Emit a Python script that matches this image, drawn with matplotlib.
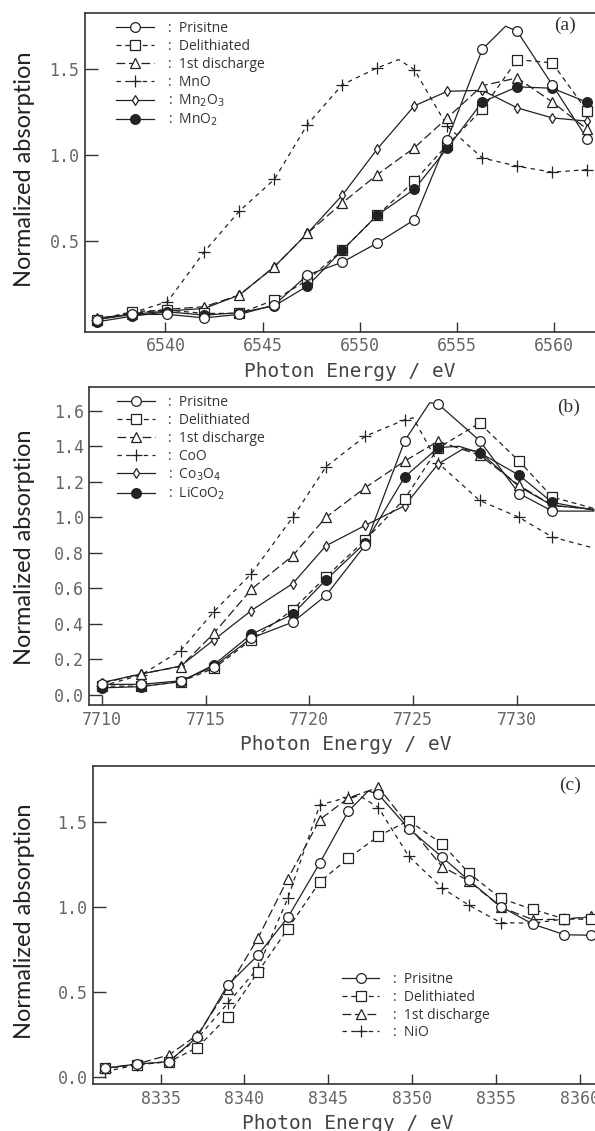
import matplotlib.pyplot as plt
from matplotlib.lines import Line2D
from matplotlib.ticker import FormatStrFormatter

# ---- data ----
# (a) Mn K-edge
xa = [6536.5, 6538.3, 6540.1, 6542.0, 6543.8, 6545.6, 6547.3, 6549.1,
      6550.9, 6552.8, 6554.5, 6556.3, 6558.1, 6559.9, 6561.7]
pristine_a = [0.04, 0.07, 0.07, 0.05, 0.07, 0.125, 0.30, 0.375, 0.487, 0.622,
              1.09, 1.617, 1.722, 1.41, 1.095]
delith_a = [0.04, 0.086, 0.095, 0.076, 0.076, 0.154, 0.27, 0.445, 0.649, 0.847,
            1.06, 1.266, 1.557, 1.538, 1.256]
disch_a = [0.04, 0.075, 0.10, 0.115, 0.183, 0.348, 0.543, 0.721, 0.886, 1.042,
           1.217, 1.405, 1.45, 1.31, 1.15]
mno_a = [0.04, 0.08, 0.144, 0.436, 0.673, 0.858, 1.178, 1.411, 1.509, 1.499,
         1.168, 0.983, 0.935, 0.90, 0.915]
mn2o3_a = [0.05, 0.07, 0.09, 0.105, 0.183, 0.348, 0.543, 0.766, 1.036, 1.287,
           1.372, 1.378, 1.275, 1.217, 1.198]
mno2_a = [0.027, 0.06, 0.085, 0.066, 0.08, 0.12, 0.235, 0.445, 0.649, 0.80,
          1.04, 1.31, 1.398, 1.39, 1.308]
# curve maxima / ends between markers
peak_pristine_a = ([6557.5], [1.752])
peak_mno_a = ([6552.0], [1.557])

# (b) Co K-edge
xb = [7710.0, 7711.9, 7713.8, 7715.4, 7717.2, 7719.2, 7720.8, 7722.7,
      7724.6, 7726.2, 7728.2, 7730.1, 7731.7]
pristine_b = [0.06, 0.06, 0.08, 0.16, 0.32, 0.41, 0.56, 0.845, 1.432, 1.638,
              1.432, 1.134, 1.035]
delith_b = [0.05, 0.05, 0.075, 0.15, 0.31, 0.48, 0.665, 0.873, 1.105, 1.39,
            1.53, 1.317, 1.114]
disch_b = [0.065, 0.12, 0.16, 0.347, 0.594, 0.784, 1.0, 1.167, 1.317, 1.428,
           1.35, 1.18, 1.067]
coo_b = [0.05, 0.113, 0.25, 0.469, 0.682, 1.0, 1.284, 1.457, 1.549, 1.306,
         1.095, 1.0, 0.889]
co3o4_b = [0.07, 0.118, 0.163, 0.31, 0.475, 0.627, 0.84, 0.955, 1.066, 1.30,
           1.367, 1.173, 1.067]
licoo2_b = [0.04, 0.047, 0.075, 0.17, 0.341, 0.455, 0.648, 0.857, 1.228, 1.392,
            1.364, 1.237, 1.084]
peak_pristine_b = ([7725.8, 7733.7], [1.645, 1.035])
peak_delith_b = ([7733.7], [1.05])
peak_disch_b = ([7733.7], [1.045])
peak_coo_b = ([7725.0, 7733.6], [1.56, 0.83])
peak_co3o4_b = ([7727.4, 7733.7], [1.385, 1.045])
peak_licoo2_b = ([7727.2, 7733.7], [1.40, 1.04])

# (c) Ni K-edge
xc = [8331.7, 8333.6, 8335.5, 8337.2, 8339.0, 8340.8, 8342.6, 8344.5, 8346.2,
      8348.0, 8349.8, 8351.8, 8353.4, 8355.3, 8357.2, 8359.1, 8360.7]
pristine_c = [0.049, 0.075, 0.088, 0.236, 0.54, 0.715, 0.94, 1.26, 1.565,
              1.665, 1.463, 1.295, 1.157, 1.003, 0.90, 0.837, 0.834]
delith_c = [0.049, 0.07, 0.088, 0.171, 0.354, 0.616, 0.873, 1.149, 1.288,
            1.419, 1.51, 1.373, 1.2, 1.051, 0.987, 0.93, 0.928]
disch_c = [0.05, 0.075, 0.128, 0.246, 0.517, 0.815, 1.168, 1.516, 1.643,
           1.707, 1.481, 1.238, 1.154, 1.0, 0.926, 0.928, 0.945]
nio_c = [0.03, 0.07, 0.09, 0.226, 0.432, 0.639, 1.054, 1.603, 1.648,
         1.587, 1.301, 1.112, 1.011, 0.908, 0.905, 0.93, 0.94]
peak_pristine_c = ([8347.4], [1.685])
peak_nio_c = ([8346.9], [1.655])

labels_a = ['Prisitne', 'Delithiated', '1st discharge', 'MnO', 'Mn$_2$O$_3$', 'MnO$_2$']
labels_b = ['Prisitne', 'Delithiated', '1st discharge', 'CoO', 'Co$_3$O$_4$', 'LiCoO$_2$']
labels_c = ['Prisitne', 'Delithiated', '1st discharge', 'NiO']

# ---- styles ----
INK = '#222222'
STYLES = {
    'pristine': dict(marker='o', ls='-', mfc='white', ms=7),
    'delith': dict(marker='s', ls=(0, (4, 3)), mfc='white', ms=6.5),
    'disch': dict(marker='^', ls=(0, (7, 3)), mfc='white', ms=7),
    'ref': dict(marker='+', ls=(0, (3.5, 3.5)), mfc='white', ms=9),
    'ref2': dict(marker='d', ls='-', mfc='white', ms=5),
    'ref3': dict(marker='o', ls='-', mfc=INK, ms=7),
}
MONO = 'DejaVu Sans Mono'


def draw(ax, x, y, style, extra=None):
    st = STYLES[style]
    lx, ly = list(x), list(y)
    if extra is not None:
        pts = sorted(zip(lx + extra[0], ly + extra[1]))
        lx = [p[0] for p in pts]
        ly = [p[1] for p in pts]
    ax.plot(lx, ly, color=INK, lw=0.9, ls=st['ls'], zorder=2)
    ax.plot(x, y, ls='none', marker=st['marker'], ms=st['ms'], mfc=st['mfc'],
            mec=INK, mew=0.9, zorder=3)


def handle(style):
    st = STYLES[style]
    return Line2D([], [], color=INK, lw=0.9, ls=st['ls'], marker=st['marker'],
                  ms=st['ms'], mfc=st['mfc'], mec=INK, mew=0.9)


def frame(ax, xlim, ylim, xticks, yticks, xlab_pos, ylab_pos, tag, tag_pos):
    ax.set_xlim(*xlim)
    ax.set_ylim(*ylim)
    ax.set_xticks(xticks)
    ax.set_yticks(yticks)
    ax.yaxis.set_major_formatter(FormatStrFormatter('%.1f'))
    ax.spines['right'].set_visible(False)
    for s in ['left', 'bottom', 'top']:
        ax.spines[s].set_color('#333333')
        ax.spines[s].set_linewidth(1.2)
    ax.tick_params(axis='x', direction='in', length=7, width=1, color='#333333',
                   pad=4, labelsize=12, labelcolor='#666666')
    ax.tick_params(axis='y', direction='in', length=9, width=1, color='#333333',
                   pad=4, labelsize=12, labelcolor='#666666')
    for t in ax.get_xticklabels() + ax.get_yticklabels():
        t.set_family(MONO)
    ax.set_xlabel('Photon Energy / eV', family=MONO, fontsize=14,
                  color='#444444', va='baseline')
    ax.xaxis.set_label_coords(*xlab_pos)
    ax.set_ylabel('Normalized absorption', family='Lato', fontsize=17,
                  color='#222222', va='center')
    ax.yaxis.set_label_coords(*ylab_pos)
    ax.text(tag_pos[0], tag_pos[1], tag, transform=ax.transAxes,
            family='Liberation Serif', fontsize=14, color='#333333',
            ha='center', va='center')


def legend(ax, styles, labels, pos):
    hs = [handle(s) for s in styles]
    ax.legend(hs, [':  ' + l for l in labels], loc='upper left', bbox_to_anchor=pos,
              frameon=False, numpoints=1, handlelength=2.7, handletextpad=1.0,
              borderpad=0, borderaxespad=0, labelspacing=0.2,
              prop={'family': 'Open Sans', 'size': 10}, labelcolor='#333333')


fig = plt.figure(figsize=(5.95, 11.31), dpi=100)

# (a)
ax = fig.add_axes([0.1429, 0.7067, 0.8571, 0.2815])
draw(ax, xa, mno_a, 'ref', peak_mno_a)
draw(ax, xa, mn2o3_a, 'ref2')
draw(ax, xa, disch_a, 'disch')
draw(ax, xa, delith_a, 'delith')
draw(ax, xa, mno2_a, 'ref3')
draw(ax, xa, pristine_a, 'pristine', peak_pristine_a)
frame(ax, (6535.86, 6562.1), (-0.031, 1.827), [6540, 6545, 6550, 6555, 6560],
      [0.5, 1.0, 1.5], (0.52, -0.143), (-0.118, 0.511), '(a)', (0.941, 0.963))
legend(ax, ['pristine', 'delith', 'disch', 'ref', 'ref2', 'ref3'], labels_a, (0.061, 0.975))

# (b)
ax = fig.add_axes([0.150, 0.3767, 0.85, 0.2809])
draw(ax, xb, coo_b, 'ref', peak_coo_b)
draw(ax, xb, co3o4_b, 'ref2', peak_co3o4_b)
draw(ax, xb, disch_b, 'disch', peak_disch_b)
draw(ax, xb, delith_b, 'delith', peak_delith_b)
draw(ax, xb, licoo2_b, 'ref3', peak_licoo2_b)
draw(ax, xb, pristine_b, 'pristine', peak_pristine_b)
frame(ax, (7709.4, 7733.76), (-0.056, 1.732), [7710, 7715, 7720, 7725, 7730],
      [0.0, 0.2, 0.4, 0.6, 0.8, 1.0, 1.2, 1.4, 1.6], (0.508, -0.142),
      (-0.128, 0.495), '(b)', (0.947, 0.936))
legend(ax, ['pristine', 'delith', 'disch', 'ref', 'ref2', 'ref3'], labels_b, (0.055, 0.975))

# (c)
ax = fig.add_axes([0.1563, 0.0413, 0.8437, 0.2817])
draw(ax, xc, nio_c, 'ref', peak_nio_c)
draw(ax, xc, disch_c, 'disch')
draw(ax, xc, delith_c, 'delith')
draw(ax, xc, pristine_c, 'pristine', peak_pristine_c)
frame(ax, (8330.97, 8360.92), (-0.045, 1.834), [8335, 8340, 8345, 8350, 8355, 8360],
      [0.0, 0.5, 1.0, 1.5], (0.508, -0.140), (-0.136, 0.513), '(c)', (0.95, 0.938))
legend(ax, ['pristine', 'delith', 'disch', 'ref'], labels_c, (0.496, 0.3525))

fig.savefig('out.png', dpi=100)
